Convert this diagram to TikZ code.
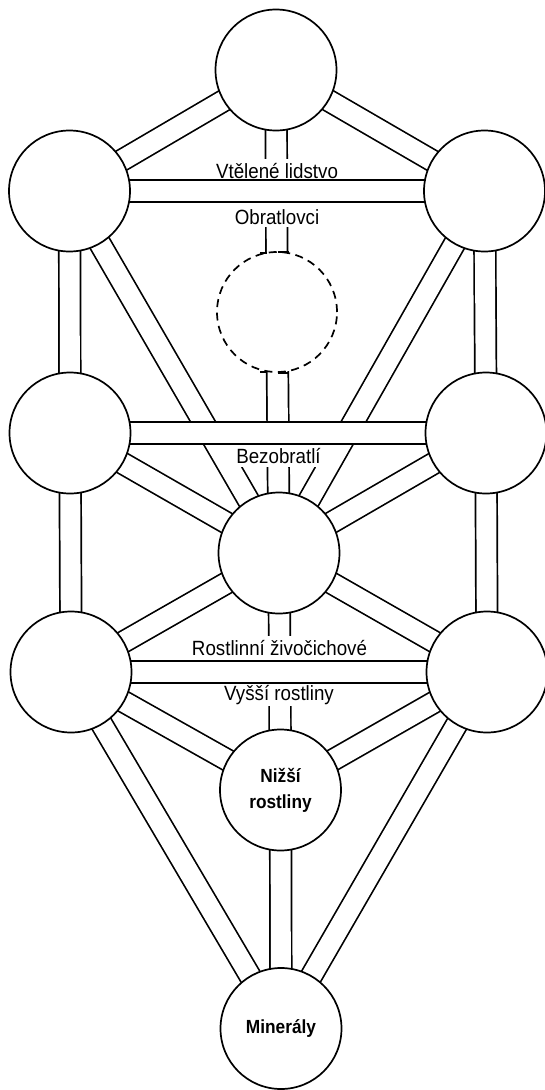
\documentclass[tikz,border=0pt]{standalone}
\usepackage{fontspec}
\setmainfont{Liberation Sans}
\newfontfamily\condfont[FakeStretch=0.91]{Liberation Sans}
\pgfdeclarelayer{bgl}
\pgfdeclarelayer{chanl}
\pgfdeclarelayer{labl}
\pgfdeclarelayer{hchanl}
\pgfsetlayers{bgl,chanl,labl,hchanl,main}
\begin{document}
\begin{tikzpicture}[x=1pt,y=-1pt,
  sef/.style={circle, draw, fill=white, line width=1.7pt, minimum size=121pt, inner sep=0pt},
  daat/.style={sef, dash pattern=on 8pt off 5.5pt, minimum size=120pt},
  band/.style={line width=1.7pt, double=white, double distance=19.9pt},
  lbl/.style={fill=white, inner ysep=0pt, inner xsep=3pt, anchor=base, font=\condfont\fontsize{20.6}{22}\selectfont},
  ctext/.style={font=\condfont\bfseries\fontsize{19}{26}\selectfont, align=center},
  hook/.style={line width=1.7pt}]
\useasboundingbox (0,0) rectangle (545,1090);
\begin{pgfonlayer}{bgl}
  \fill[white] (0,0) rectangle (545,1090);
\end{pgfonlayer}
% sefirot
\node[sef] (kether) at (276,70) {};
\node[sef] (binah) at (69.5,191) {};
\node[sef] (chokmah) at (484.5,191) {};
\node[daat] (daath) at (277,312) {};
\node[sef] (geburah) at (70,433) {};
\node[sef] (chesed) at (486,433) {};
\node[sef] (tiph) at (279,553) {};
\node[sef] (hod) at (71,672) {};
\node[sef] (netzach) at (487,672) {};
\node[sef, ctext] (yesod) at (280.5,790) {Nižší\\rostliny};
\node[sef, ctext] (malkuth) at (281,1028.5) {Minerály};
% paths (non-horizontal)
\begin{pgfonlayer}{chanl}
  \foreach \a/\b in {kether/binah, kether/chokmah, kether/daath, daath/tiph,
      binah/geburah, chokmah/chesed, binah/tiph, chokmah/tiph,
      geburah/tiph, chesed/tiph, geburah/hod, chesed/netzach,
      tiph/hod, tiph/netzach, tiph/yesod, hod/yesod, netzach/yesod,
      hod/malkuth, netzach/malkuth, yesod/malkuth}
    \draw[band] (\a.center) -- (\b.center);
\end{pgfonlayer}
% labels
\begin{pgfonlayer}{labl}
  \node[lbl, text height=19.5pt, text depth=3.5pt] (l1) at (277,178) {Vtělené lidstvo};
  \node[lbl, text height=21pt, text depth=2.5pt] (l2) at (277,224) {Obratlovci};
  \node[lbl, inner xsep=8pt, text height=20pt, text depth=3.7pt] (l3) at (278.5,463) {Bezobratlí};
  \node[lbl, text height=19.5pt, text depth=5pt] (l4) at (279.5,655) {Rostlinní živočichové};
  \node[lbl, text height=18pt, text depth=5.7pt] (l5) at (279,700) {Vyšší rostliny};
\end{pgfonlayer}
% horizontal paths
\begin{pgfonlayer}{hchanl}
  \draw[band] (binah.center) -- (chokmah.center);
  \draw[band] (geburah.center) -- (chesed.center);
  \draw[band] (hod.center) -- (netzach.center);
\end{pgfonlayer}
% small hooks where the middle path meets the dashed circle
\draw[hook] ([shift={(-17,-58.7)}]daath.center) -- ([shift={(-10,-58.7)}]daath.center);
\draw[hook] ([shift={(0.5,-60.3)}]daath.center) -- ([shift={(11.5,-60.3)}]daath.center);
\draw[hook] ([shift={(-17,59.7)}]daath.center) -- ([shift={(-10,59.7)}]daath.center);
\draw[hook] ([shift={(1,60.7)}]daath.center) -- ([shift={(11.5,60.7)}]daath.center);
\end{tikzpicture}
\end{document}
